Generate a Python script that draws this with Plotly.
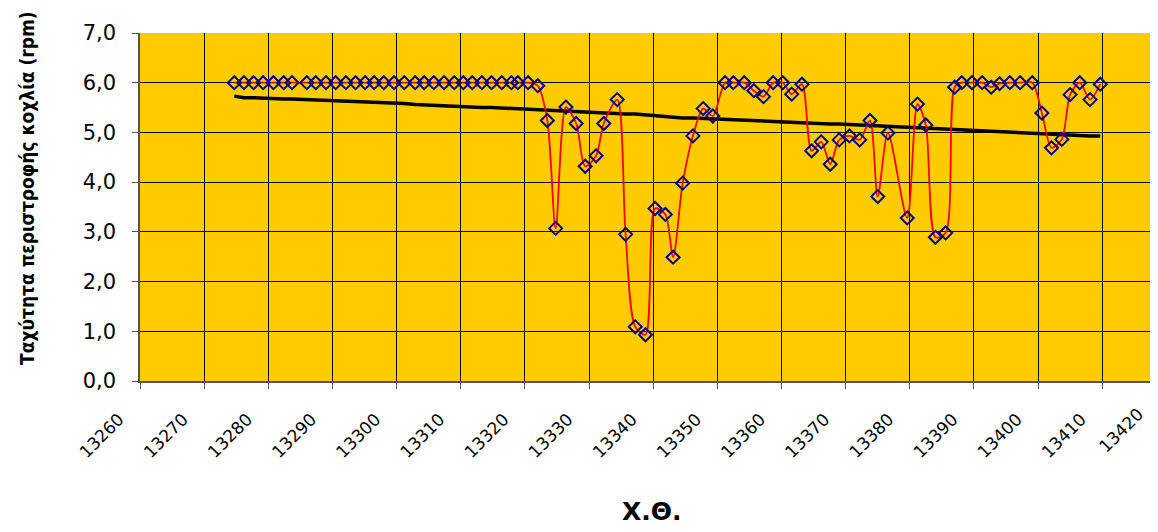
import plotly.graph_objects as go

# Chainage (Χ.Θ.)
chainage = [
    13274.7, 13276.2, 13277.7, 13279.2, 13280.8, 13282.4, 13283.7, 13286.0, 13287.4, 13289.0,
    13290.5, 13292.1, 13293.6, 13295.1, 13296.5, 13298.0, 13299.6, 13301.2, 13302.9, 13304.3,
    13305.8, 13307.4, 13309.0, 13310.4, 13311.8, 13313.3, 13314.8, 13316.4, 13317.9, 13318.9,
    13320.5, 13322.0, 13323.5, 13324.8, 13326.4, 13328.0, 13329.4, 13331.1, 13332.3, 13334.4,
    13335.7, 13337.2, 13338.8, 13340.3, 13341.9, 13343.1, 13344.6, 13346.2, 13347.8, 13349.3,
    13351.2, 13352.5, 13354.2, 13355.7, 13357.2, 13358.7, 13360.2, 13361.6, 13363.2, 13364.7,
    13366.2, 13367.6, 13369.0, 13370.6, 13372.2, 13373.8, 13375.0, 13376.6, 13379.6, 13381.2,
    13382.5, 13384.0, 13385.6, 13387.0, 13388.1, 13389.7, 13391.3, 13392.7, 13394.0, 13395.6,
    13397.2, 13399.1, 13400.6, 13402.1, 13403.7, 13405.0, 13406.5, 13408.1, 13409.7,
]

# Screw rotation speed (rpm)
speed = [
    6.00, 6.00, 6.00, 6.00, 6.00, 6.00, 6.00, 6.00, 6.00, 6.00,
    6.00, 6.00, 6.00, 6.00, 6.00, 6.00, 6.00, 6.00, 6.00, 6.00,
    6.00, 6.00, 6.00, 6.00, 6.00, 6.00, 6.00, 6.00, 6.00, 6.00,
    6.00, 5.94, 5.24, 3.07, 5.51, 5.18, 4.32, 4.53, 5.18, 5.66,
    2.95, 1.09, 0.93, 3.47, 3.35, 2.49, 3.98, 4.93, 5.48, 5.33,
    6.00, 6.00, 6.00, 5.84, 5.72, 6.00, 6.00, 5.77, 5.97, 4.63,
    4.81, 4.36, 4.85, 4.93, 4.85, 5.24, 3.71, 4.99, 3.28, 5.57,
    5.15, 2.89, 2.98, 5.91, 6.00, 6.00, 6.00, 5.91, 5.98, 6.00,
    6.00, 6.00, 5.39, 4.69, 4.86, 5.76, 6.00, 5.66, 5.97,
]

# Trend (black line)
trend = [
    5.73, 5.70, 5.70, 5.69, 5.67, 5.67, 5.67, 5.66, 5.64, 5.64,
    5.63, 5.62, 5.62, 5.62, 5.60, 5.59, 5.59, 5.58, 5.56, 5.55,
    5.55, 5.54, 5.53, 5.52, 5.51, 5.50, 5.50, 5.49, 5.48, 5.47,
    5.47, 5.46, 5.45, 5.43, 5.42, 5.41, 5.41, 5.40, 5.39, 5.38,
    5.37, 5.37, 5.35, 5.33, 5.32, 5.30, 5.29, 5.29, 5.28, 5.27,
    5.26, 5.25, 5.24, 5.24, 5.23, 5.22, 5.21, 5.20, 5.19, 5.18,
    5.18, 5.17, 5.17, 5.16, 5.15, 5.14, 5.13, 5.13, 5.11, 5.10,
    5.09, 5.07, 5.06, 5.05, 5.05, 5.04, 5.03, 5.02, 5.01, 5.00,
    4.99, 4.98, 4.97, 4.96, 4.95, 4.94, 4.94, 4.93, 4.93,
]

x_ticks = list(range(13260, 13430, 10))
y_ticks = [0, 1, 2, 3, 4, 5, 6, 7]
x_range = [13260, 13418.7]   # the right part of the chart is cut off in the picture
y_range = [0, 7]

FONT = "DejaVu Sans, Liberation Sans, sans-serif"
TITLE_FONT = "DejaVu Sans Condensed, DejaVu Sans, sans-serif"
PLOT_W = 1018
PLOT_H = 348

fig = go.Figure()
fig.add_trace(go.Scatter(
    x=chainage, y=trend, mode="lines",
    line=dict(color="black", width=3.5), hoverinfo="skip", showlegend=False,
))
fig.add_trace(go.Scatter(
    x=chainage, y=speed, mode="lines+markers",
    line=dict(color="#FF0000", width=1.8, shape="spline", smoothing=0.8),
    marker=dict(symbol="diamond-open", size=10, color="#000080", line=dict(width=2, color="#000080")),
    showlegend=False, cliponaxis=False,
))

# page body has an 8px margin: shift the figure accordingly
fig.update_layout(
    width=1150, height=524,
    margin=dict(l=132, r=0, t=25, b=151, pad=0),
    paper_bgcolor="white", plot_bgcolor="#FFCC00",
    separators=",.",
    font=dict(family=FONT, color="black"),
    showlegend=False,
    xaxis=dict(
        range=x_range, tickvals=x_ticks, ticktext=[str(v) for v in x_ticks],
        tickangle=-45, tickfont=dict(size=17, family=FONT),
        ticklabelshift=-21, ticklabelstandoff=14,
        showgrid=True, gridcolor="black", gridwidth=1,
        ticks="outside", ticklen=6, tickcolor="#555555",
        showline=True, linecolor="#555555", linewidth=1.5,
        zeroline=False, fixedrange=True,
    ),
    yaxis=dict(
        range=y_range, tickvals=y_ticks, tickformat=".1f",
        tickfont=dict(size=21, family=FONT),
        ticklabelstandoff=12,
        showgrid=True, gridcolor="black", gridwidth=1,
        ticks="outside", ticklen=6, tickcolor="#555555",
        showline=True, linecolor="#555555", linewidth=1.5,
        zeroline=False, fixedrange=True,
    ),
)

# tick label 13420 (its tick lies just beyond the cropped right edge)
last_tick = x_ticks[-1]
fig.add_annotation(
    x=(last_tick - x_range[0]) / (x_range[1] - x_range[0]), xref="paper",
    y=0, yref="paper", yshift=-20, xshift=-16,
    text=str(last_tick), textangle=-45, showarrow=False,
    xanchor="right", yanchor="top", font=dict(size=17, family=FONT),
)

# y-axis title
fig.add_annotation(
    x=-113 / PLOT_W, xref="paper", y=(381 - 188) / PLOT_H, yref="paper",
    text="<b>Ταχύτητα περιστροφής κοχλία (rpm)</b>", textangle=-90, showarrow=False,
    xanchor="center", yanchor="middle", font=dict(size=19, family=TITLE_FONT),
)

# x-axis title
fig.add_annotation(
    x=(652 - 140) / PLOT_W, xref="paper", y=-(511 - 381) / PLOT_H, yref="paper",
    text="<b>Χ.Θ.</b>", showarrow=False,
    xanchor="center", yanchor="middle", font=dict(size=25, family=FONT),
)

fig.write_html("out.html")
